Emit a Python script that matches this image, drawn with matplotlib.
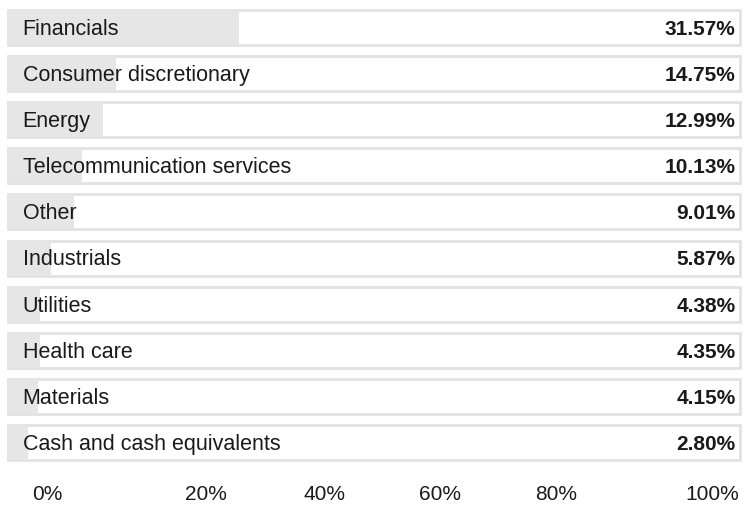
import numpy as np
import matplotlib.pyplot as plt

plt.rcParams['font.family'] = ['Liberation Sans', 'DejaVu Sans']

# sector weights (%)
sectors = ['Financials', 'Consumer discretionary', 'Energy',
           'Telecommunication services', 'Other', 'Industrials',
           'Utilities', 'Health care', 'Materials',
           'Cash and cash equivalents']
weights = [31.57, 14.75, 12.99, 10.13, 9.01, 5.87, 4.38, 4.35, 4.15, 2.80]
tick_labels = ['0%', '20%', '40%', '60%', '80%', '100%']

fig = plt.figure(figsize=(7.45, 5.06), dpi=100)
ax = fig.add_axes([8 / 745, 45 / 506, 732 / 745, 450 / 506])

y = np.arange(len(sectors))
h = 35 / 46

# row frames
ax.barh(y, [100] * len(sectors), height=h, color='white',
        edgecolor='#e2e2e2', linewidth=2, clip_on=False, zorder=1)
# value bars
ax.barh(y, weights, height=h, color='#e6e6e6', edgecolor='none', zorder=2)

for i, (name, w) in enumerate(zip(sectors, weights)):
    ax.text(2.0, i + 0.02, name, va='center', ha='left', fontsize=15.5,
            color='#1a1a1a', zorder=3)
    ax.text(99.4, i + 0.02, f'{w:.2f}%', va='center', ha='right',
            fontsize=15, fontweight='bold', color='#1a1a1a', zorder=3)

ax.set_xlim(0, 100)
ax.set_ylim(len(sectors) - 1 + h / 2, -h / 2)
ax.axis('off')

# scale labels along the bottom
tick_px = [47, 206, 325, 440, 556, 712]
for px, lab in zip(tick_px, tick_labels):
    fig.text(px / 745, 1 - 495 / 506, lab, ha='center', va='center',
             fontsize=15, color='#1a1a1a')

fig.savefig('out.png', dpi=100)
